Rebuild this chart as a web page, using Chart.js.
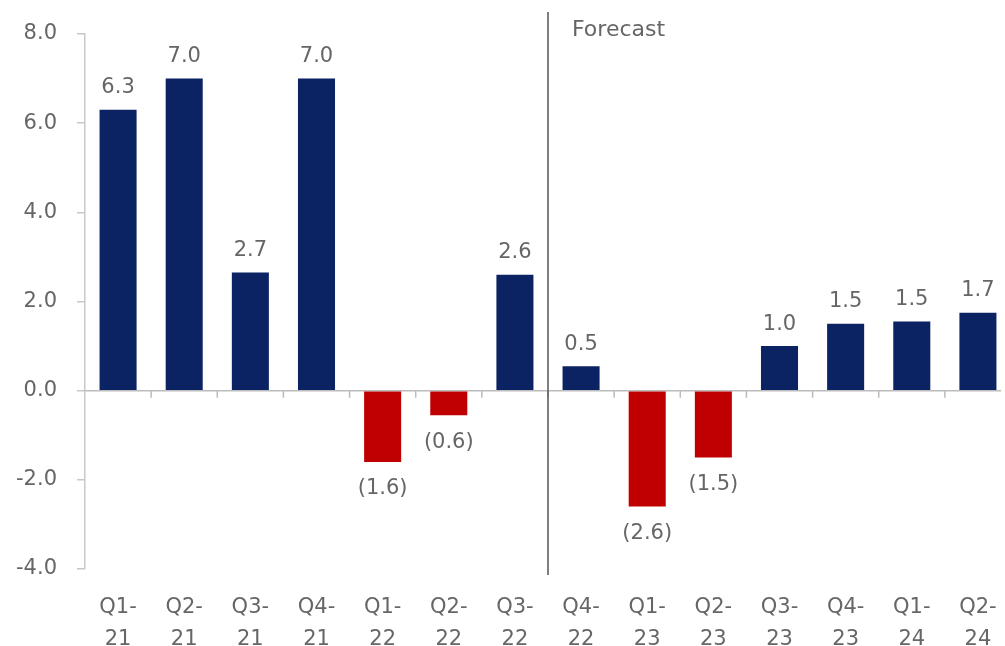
<!DOCTYPE html>
<html>
<head>
<meta charset="utf-8">
<script src="https://cdn.jsdelivr.net/npm/chart.js@4.4.0/dist/chart.umd.min.js"></script>
<style>
  html, body { margin: 0; padding: 0; background: #fff; overflow: hidden; }
  #wrap { width: 1012px; height: 646px; position: relative; }
</style>
</head>
<body>
<div id="wrap"><canvas id="chart"></canvas></div>
<script>
// data
const quarters = [['Q1-', '21'], ['Q2-', '21'], ['Q3-', '21'], ['Q4-', '21'],
  ['Q1-', '22'], ['Q2-', '22'], ['Q3-', '22'], ['Q4-', '22'],
  ['Q1-', '23'], ['Q2-', '23'], ['Q3-', '23'], ['Q4-', '23'],
  ['Q1-', '24'], ['Q2-', '24']];
const values = [6.3, 7.0, 2.65, 7.0, -1.6, -0.55, 2.6, 0.55, -2.6, -1.5, 1.0, 1.5, 1.55, 1.75];
const valueLabels = ['6.3', '7.0', '2.7', '7.0', '(1.6)', '(0.6)', '2.6', '0.5', '(2.6)', '(1.5)', '1.0', '1.5', '1.5', '1.7'];
const yTicks = [-4, -2, 0, 2, 4, 6, 8];
const forecastAfter = 6; // forecast starts after Q3-22
const forecastText = 'Forecast';

const navy = '#0b2263';
const red = '#c00000';
const textGrey = '#666666';
const fontFamily = '"DejaVu Sans", "Noto Sans", sans-serif';

// zero line with small ticks between categories
const zeroLinePlugin = {
  id: 'zeroLine',
  beforeDatasetsDraw(chart) {
    const { ctx, chartArea, scales: { x, y } } = chart;
    const y0 = y.getPixelForValue(0);
    ctx.save();
    ctx.strokeStyle = '#bcbcbc';
    ctx.lineWidth = 1.5;
    ctx.beginPath();
    ctx.moveTo(chartArea.left, y0);
    ctx.lineTo(chartArea.right - 10, y0);
    for (let i = 0; i < quarters.length - 1; i++) {
      const bx = (x.getPixelForValue(i) + x.getPixelForValue(i + 1)) / 2;
      ctx.moveTo(bx, y0);
      ctx.lineTo(bx, y0 + 7);
    }
    ctx.stroke();
    ctx.restore();
  }
};

// forecast divider and bar value labels
const extrasPlugin = {
  id: 'extras',
  afterDatasetsDraw(chart) {
    const { ctx, chartArea, scales: { x, y } } = chart;
    const fx = (x.getPixelForValue(forecastAfter) + x.getPixelForValue(forecastAfter + 1)) / 2;
    ctx.save();
    ctx.strokeStyle = '#555';
    ctx.lineWidth = 1.5;
    ctx.beginPath();
    ctx.moveTo(fx, 12);
    ctx.lineTo(fx, chartArea.bottom + 6);
    ctx.stroke();

    ctx.fillStyle = textGrey;
    ctx.font = '22px ' + fontFamily;
    ctx.textAlign = 'left';
    ctx.textBaseline = 'middle';
    ctx.fillText(forecastText, fx + 24, 30);

    ctx.font = '21px ' + fontFamily;
    ctx.textAlign = 'center';
    const meta = chart.getDatasetMeta(0);
    meta.data.forEach((bar, i) => {
      const v = values[i];
      const ly = v >= 0 ? bar.y - 22 : bar.y + 27;
      ctx.fillText(valueLabels[i], bar.x, ly);
    });
    ctx.restore();
  }
};

new Chart(document.getElementById('chart'), {
  type: 'bar',
  data: {
    labels: quarters,
    datasets: [{
      data: values,
      backgroundColor: values.map(v => v < 0 ? red : navy),
      borderWidth: 0,
      barPercentage: 0.7,
      categoryPercentage: 0.8
    }]
  },
  options: {
    responsive: true,
    maintainAspectRatio: false,
    animation: false,
    layout: { padding: { top: 34, right: 1, bottom: 0, left: 0 } },
    plugins: {
      legend: { display: false },
      tooltip: { enabled: false }
    },
    scales: {
      x: {
        grid: { display: false },
        border: { display: false },
        ticks: {
          color: textGrey,
          font: { family: fontFamily, size: 21, lineHeight: '32px' },
          padding: 15,
          maxRotation: 0,
          autoSkip: false
        },
        afterFit(s) { s.height = 77; }
      },
      y: {
        min: -4,
        max: 8,
        afterBuildTicks(s) { s.ticks = yTicks.map(v => ({ value: v })); },
        grid: {
          drawOnChartArea: false,
          color: '#c8c8c8',
          lineWidth: 1.5,
          tickLength: 8
        },
        border: { display: true, color: '#c8c8c8', width: 1.5 },
        ticks: {
          color: textGrey,
          font: { family: fontFamily, size: 21 },
          padding: 20,
          callback: v => v.toFixed(1)
        },
        afterFit(s) { s.width = 85; }
      }
    }
  },
  plugins: [zeroLinePlugin, extrasPlugin]
});
</script>
</body>
</html>
